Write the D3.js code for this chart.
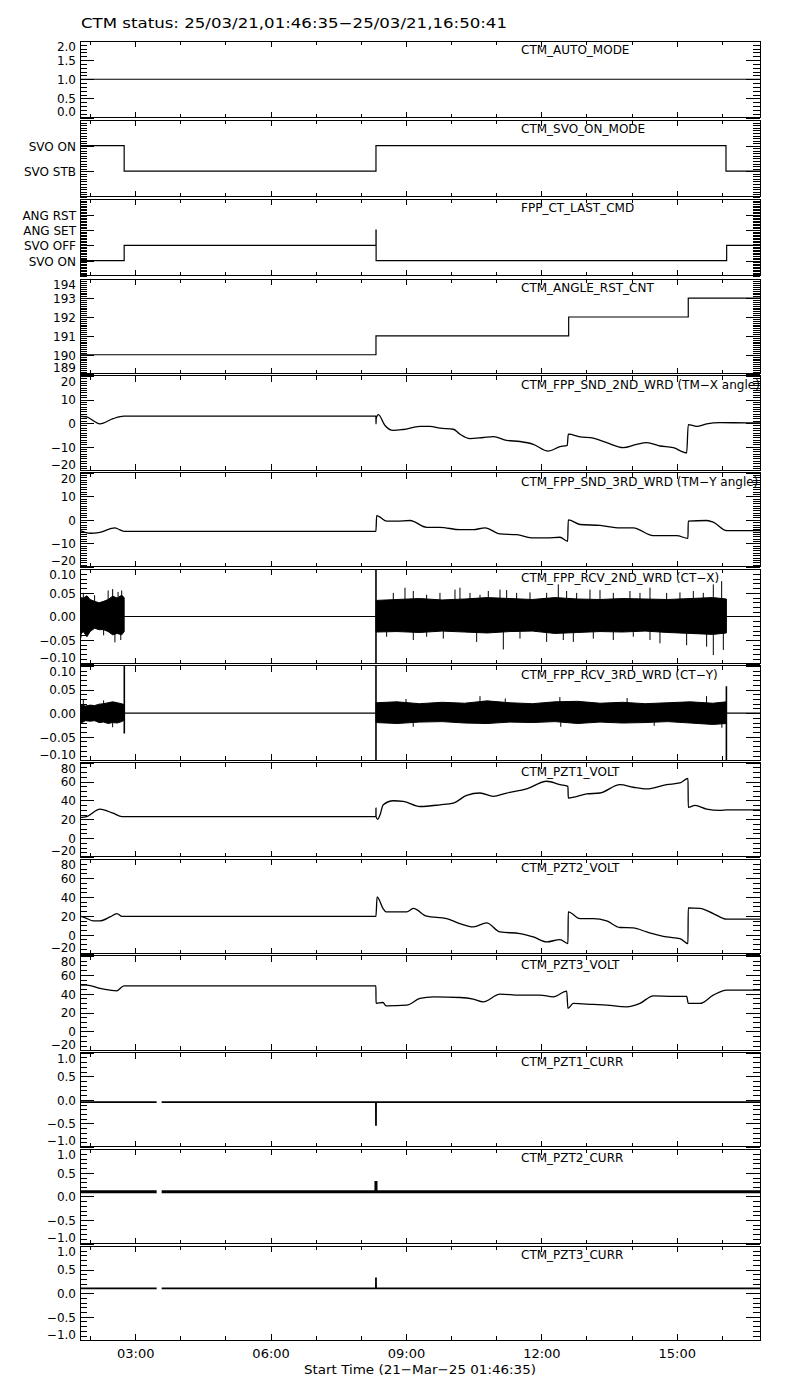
<!DOCTYPE html>
<html><head><meta charset="utf-8">
<script src="https://cdnjs.cloudflare.com/ajax/libs/d3/7.8.5/d3.min.js"></script>
<style>
body{margin:0;background:#fff}
svg{display:block}
text{font-family:"DejaVu Sans",sans-serif;fill:#000}
</style></head>
<body><svg id="c" width="800" height="1400"></svg>
<script>
// ---------------- DATA ----------------
const startH = 1 + 46/60 + 35/3600;   // 01:46:35
const endH   = 16 + 50/60 + 41/3600;  // 16:50:41
const titleText = "CTM status: 25/03/21,01:46:35\u221225/03/21,16:50:41";
const xTitleText = "Start Time (21\u2212Mar\u221225 01:46:35)";

const panelNames = ["CTM_AUTO_MODE","CTM_SVO_ON_MODE","FPP_CT_LAST_CMD","CTM_ANGLE_RST_CNT",
  "CTM_FPP_SND_2ND_WRD (TM\u2212X angle)","CTM_FPP_SND_3RD_WRD (TM\u2212Y angle)",
  "CTM_FPP_RCV_2ND_WRD (CT\u2212X)","CTM_FPP_RCV_3RD_WRD (CT\u2212Y)",
  "CTM_PZT1_VOLT","CTM_PZT2_VOLT","CTM_PZT3_VOLT","CTM_PZT1_CURR","CTM_PZT2_CURR","CTM_PZT3_CURR"];
const yDomains = [[0,2],[-1,2],[-1,4],[189,194],[-20,20],[-20,20],[-0.1,0.1],[-0.1,0.1],
  [-20,80],[-20,80],[-20,80],[-1,1],[-1,1],[-1,1]];
const yMajorTicks = [[0,0.5,1,1.5,2],[0,1],[0,1,2,3],[189,190,191,192,193,194],
  [-20,-10,0,10,20],[-20,-10,0,10,20],[-0.1,-0.05,0,0.05,0.1],[-0.1,-0.05,0,0.05,0.1],
  [-20,0,20,40,60,80],[-20,0,20,40,60,80],[-20,0,20,40,60,80],
  [-1,-0.5,0,0.5,1],[-1,-0.5,0,0.5,1],[-1,-0.5,0,0.5,1]];
const yTickLabels = [["0.0","0.5","1.0","1.5","2.0"],["SVO STB","SVO ON"],
  ["SVO ON","SVO OFF","ANG SET","ANG RST"],["189","190","191","192","193","194"],
  ["\u221220","\u221210","0","10","20"],["\u221220","\u221210","0","10","20"],
  ["\u22120.10","\u22120.05","0.00","0.05","0.10"],["\u22120.10","\u22120.05","0.00","0.05","0.10"],
  ["\u221220","0","20","40","60","80"],["\u221220","0","20","40","60","80"],["\u221220","0","20","40","60","80"],
  ["\u22121.0","\u22120.5","0.0","0.5","1.0"],["\u22121.0","\u22120.5","0.0","0.5","1.0"],["\u22121.0","\u22120.5","0.0","0.5","1.0"]];
const yMinorSteps = [0.1,0.1,0.1,0.1,1,1,0.01,0.01,5,5,5,0.1,0.1,0.1];

// step series
const autoModeT = [startH, endH];
const autoModeV = [1, 1];
const svoOnModeT = [startH, 2.755, 8.335, 16.091, endH];
const svoOnModeV = [1, 0, 1, 0, 0];
const lastCmdT = [startH, 2.755, 8.335, 8.338, 16.106, endH];
const lastCmdV = [0, 1, 2, 0, 1, 1];
const angleRstT = [startH, 8.335, 12.605, 15.255, endH];
const angleRstV = [190, 191, 192, 193, 193];

// TM-X angle
const tmXT = [1.776,1.925,2.219,2.508,2.751,8.334,8.336,8.340,8.386,8.535,8.718,8.940,9.310,9.532,9.753,
  10.048,10.197,10.418,10.713,10.934,11.231,11.526,11.821,12.153,12.412,12.574,12.596,12.856,13.150,13.447,
  13.815,14.111,14.333,14.628,14.922,15.220,15.255,15.441,15.663,15.958,16.550,16.845];
const tmXV = [3.0,2.6,-0.3,1.9,3.0,3.0,-0.3,2.0,3.6,-1.0,-3.1,-2.7,-1.4,-1.4,-2.1,
  -2.6,-4.7,-6.6,-6.1,-5.7,-7.3,-7.8,-9.0,-11.9,-10.0,-9.4,-4.7,-5.8,-6.4,-8.3,
  -10.4,-9.0,-8.3,-9.7,-10.4,-12.6,-0.6,-1.4,-0.3,0.2,0.1,0.1];
// TM-Y angle
const tmYT = [1.776,1.998,2.219,2.552,2.618,2.751,8.334,8.350,8.424,8.572,8.794,9.089,9.459,9.753,10.197,
  10.491,10.751,11.083,11.453,11.821,12.118,12.412,12.583,12.596,12.856,13.299,13.742,14.036,14.479,14.998,
  15.248,15.255,15.663,15.809,16.106,16.845];
const tmYV = [-4.6,-5.7,-5.3,-3.4,-3.9,-4.9,-4.9,1.8,1.1,-0.6,-0.6,-0.3,-3.2,-3.2,-4.2,
  -4.2,-3.4,-6.0,-6.3,-7.7,-7.7,-7.4,-9.1,0.0,-2.0,-2.4,-3.4,-3.4,-6.7,-6.7,
  -7.9,-0.6,-0.3,-1.0,-4.6,-4.6];

// CT-X (noise envelopes + spikes)
const ctXBandT1 = [1.776,1.85,1.93,2.0,2.1,2.2,2.3,2.4,2.5,2.6,2.7,2.755];
const ctXUpper1 = [0.040,0.039,0.044,0.036,0.032,0.029,0.032,0.036,0.043,0.039,0.045,0.040];
const ctXLower1 = [-0.039,-0.032,-0.043,-0.032,-0.025,-0.028,-0.028,-0.032,-0.039,-0.036,-0.039,-0.032];
const ctXBandT2 = [8.336,8.8,9.3,9.8,10.3,10.8,11.3,11.8,12.3,12.8,13.3,13.8,14.3,14.8,15.3,15.8,16.1];
const ctXUpper2 = [0.034,0.036,0.038,0.035,0.037,0.040,0.038,0.036,0.040,0.037,0.036,0.038,0.037,0.036,0.038,0.040,0.037];
const ctXLower2 = [-0.033,-0.032,-0.034,-0.031,-0.033,-0.035,-0.032,-0.031,-0.036,-0.034,-0.032,-0.033,-0.031,-0.034,-0.036,-0.038,-0.035];
const ctXSpikeT = [1.85,1.80,2.10,2.30,2.40,2.50,2.55,2.62,2.68,2.70,
  8.719,8.978,9.162,9.458,9.753,10.086,10.196,10.418,10.640,10.824,11.083,11.231,11.452,11.748,12.117,
  12.375,12.560,12.782,13.077,13.299,13.594,13.963,14.185,14.407,14.776,15.071,15.367,15.588,15.810,15.995,
  8.571,9.162,9.458,9.827,10.566,11.157,11.526,12.117,12.486,12.708,13.151,13.594,14.037,14.407,14.628,
  15.219,15.662,15.810,16.032];
const ctXSpikeV = [0.050,-0.045,0.045,-0.040,0.055,0.058,-0.055,0.052,-0.050,0.055,
  0.050,0.061,0.054,0.046,0.050,0.057,0.061,0.050,0.046,0.054,0.057,0.056,0.050,0.051,0.050,
  0.068,0.054,0.050,0.057,0.056,0.050,0.054,0.050,0.061,0.050,0.051,0.054,0.050,0.068,0.075,
  -0.043,-0.050,-0.043,-0.047,-0.054,-0.070,-0.047,-0.054,-0.050,-0.054,-0.047,-0.050,-0.043,-0.050,-0.057,
  -0.061,-0.064,-0.082,-0.071];
const ctXSegT = [8.335];
const ctXSegV0 = [0.1];
const ctXSegV1 = [-0.1];

// CT-Y
const ctYBandT1 = [1.776,1.9,2.0,2.1,2.2,2.3,2.4,2.5,2.6,2.7,2.755];
const ctYUpper1 = [0.018,0.015,0.017,0.016,0.019,0.020,0.022,0.024,0.022,0.020,0.018];
const ctYLower1 = [-0.022,-0.016,-0.017,-0.016,-0.020,-0.019,-0.022,-0.020,-0.021,-0.018,-0.015];
const ctYBandT2 = [8.336,8.8,9.3,9.8,10.3,10.8,11.3,11.8,12.3,12.8,13.3,13.8,14.3,14.8,15.3,15.8,16.1];
const ctYUpper2 = [0.022,0.024,0.020,0.023,0.021,0.026,0.022,0.020,0.024,0.025,0.021,0.023,0.020,0.022,0.024,0.021,0.024];
const ctYLower2 = [-0.020,-0.022,-0.019,-0.018,-0.021,-0.022,-0.019,-0.020,-0.018,-0.022,-0.019,-0.021,-0.020,-0.018,-0.021,-0.024,-0.022];
const ctYSpikeT = [1.85,2.3,2.5,9.0,9.16,10.64,11.2,12.41,12.43,13.9,14.5,15.66,16.0];
const ctYSpikeV = [0.028,0.027,-0.030,0.030,-0.029,0.036,0.031,0.034,-0.029,0.032,-0.027,0.036,-0.031];
const ctYSegT = [2.758, 8.335, 16.10];
const ctYSegV0 = [0.1, 0.1, 0.057];
const ctYSegV1 = [-0.043, -0.1, -0.1];

// PZT voltages
const pzt1T = [1.776,1.925,2.219,2.508,2.707,8.334,8.335,8.336,8.373,8.424,8.497,8.718,8.940,9.310,9.753,
  10.048,10.345,10.640,10.934,11.231,11.675,12.118,12.412,12.589,12.596,13.004,13.299,13.742,14.036,14.333,
  14.776,15.071,15.250,15.255,15.404,15.663,15.958,16.106,16.845];
const pzt1V = [21.7,22.8,30.7,26.4,22.8,22.8,31.8,22.8,20.0,24.6,35.3,39.6,38.9,33.5,35.3,
  37.1,45.3,47.8,44.2,47.8,52.1,60.3,56.7,54.9,42.5,46.8,47.8,56.7,53.9,52.1,
  56.7,58.5,63.2,32.5,34.6,30.7,29.3,30.0,30.0];
const pzt2T = [1.776,1.931,2.064,2.219,2.441,2.596,2.707,8.334,8.360,8.490,8.557,9.016,9.162,9.459,9.902,
  10.197,10.491,10.788,11.083,11.526,11.821,12.118,12.412,12.589,12.596,12.856,13.150,13.447,13.742,14.036,
  14.333,14.776,15.071,15.248,15.255,15.515,15.809,16.106,16.845];
const pzt2V = [19.7,17.2,14.7,14.7,18.9,22.5,19.5,19.5,40.2,27.9,24.3,24.3,27.9,19.7,17.2,
  11.9,8.3,12.6,3.0,1.3,-2.3,-7.6,-5.1,-9.4,24.3,17.2,17.2,14.7,7.7,7.3,
  3.0,-2.3,-4.0,-9.4,28.5,27.9,22.5,16.5,16.5];
const pzt3T = [1.776,1.931,2.219,2.441,2.590,2.751,8.334,8.336,8.490,8.557,9.016,9.310,9.605,10.197,10.491,
  10.713,11.083,11.526,11.969,12.264,12.561,12.589,12.707,13.150,13.447,13.890,14.185,14.479,14.922,15.220,
  15.255,15.515,15.809,16.106,16.845];
const pzt3V = [49.1,49.1,45.6,43.8,43.1,48.4,48.4,29.7,30.7,27.1,27.9,35.0,36.7,36.0,34.3,
  31.4,39.6,38.5,38.5,36.7,42.8,24.4,29.7,28.6,27.9,26.1,29.7,37.8,37.1,37.1,
  29.7,29.7,38.5,43.8,43.8];

// PZT currents (NaN = data gap)
const currT = [startH, 3.475, 3.48, 3.586, 8.334, 8.335, 8.336, endH];
const pzt1CurrV = [-0.05,-0.05,NaN,-0.05,-0.05,-0.55,-0.05,-0.05];
const pzt2CurrV = [0.10,0.10,NaN,0.10,0.10,0.33,0.10,0.10];
const pzt3CurrV = [0.10,0.10,NaN,0.10,0.10,0.33,0.10,0.10];

// ---------------- DRAWING ----------------
const svg = d3.select("#c");
const day = new Date(2025, 2, 21);
const toDate = h => new Date(day.getTime() + h * 3600e3);
const x = d3.scaleTime().domain([toDate(startH), toDate(endH)]).range([80, 760]);

function panelBox(i){
  if (i < 3) return {top: 41 + i*79.2, bottom: 41 + i*79.2 + 76.5};
  const j = i - 3;
  return {top: 279.3 + j*96.67, bottom: 279.3 + j*96.67 + 94.3};
}
const zip = (t, v) => t.map((d, k) => [d, v[k]]);

const lineSeries = [
  {p:0, t:autoModeT, v:autoModeV, c:"step", w:1.2},
  {p:1, t:svoOnModeT, v:svoOnModeV, c:"step", w:1.2},
  {p:2, t:lastCmdT, v:lastCmdV, c:"step", w:1.2},
  {p:3, t:angleRstT, v:angleRstV, c:"step", w:1.2},
  {p:4, t:tmXT, v:tmXV, c:"smooth", w:1.3},
  {p:5, t:tmYT, v:tmYV, c:"smooth", w:1.3},
  {p:6, t:[startH,endH], v:[0,0], c:"linear", w:1.1},
  {p:7, t:[startH,endH], v:[0,0], c:"linear", w:1.1},
  {p:8, t:pzt1T, v:pzt1V, c:"smooth", w:1.3},
  {p:9, t:pzt2T, v:pzt2V, c:"smooth", w:1.3},
  {p:10, t:pzt3T, v:pzt3V, c:"smooth", w:1.3},
  {p:11, t:currT, v:pzt1CurrV, c:"linear", w:1.8},
  {p:12, t:currT, v:pzt2CurrV, c:"linear", w:3},
  {p:13, t:currT, v:pzt3CurrV, c:"linear", w:1.8}
];
const curves = {step: d3.curveStepAfter, smooth: d3.curveMonotoneX, linear: d3.curveLinear};
const bands = [
  {p:6, t:ctXBandT1, u:ctXUpper1, l:ctXLower1},
  {p:6, t:ctXBandT2, u:ctXUpper2, l:ctXLower2},
  {p:7, t:ctYBandT1, u:ctYUpper1, l:ctYLower1},
  {p:7, t:ctYBandT2, u:ctYUpper2, l:ctYLower2}
];
const spikes = [
  {p:6, t:ctXSpikeT, v:ctXSpikeV},
  {p:7, t:ctYSpikeT, v:ctYSpikeV}
];
const segs = [
  {p:6, t:ctXSegT, v0:ctXSegV0, v1:ctXSegV1},
  {p:7, t:ctYSegT, v0:ctYSegV0, v1:ctYSegV1}
];

function minorValues(dom, step){
  const a = Math.round(dom[0]/step), b = Math.round(dom[1]/step);
  return d3.range(a, b + 1).map(k => +(k*step).toFixed(6));
}
function styleAxis(g){
  g.select(".domain").remove();
  g.attr("font-family", null).attr("font-size", null);
  g.selectAll("line").attr("stroke", "#000").attr("shape-rendering", "crispEdges");
}

panelNames.forEach((name, i) => {
  const {top, bottom} = panelBox(i);
  const y = d3.scaleLinear().domain(yDomains[i]).range([bottom, top]);
  const g = svg.append("g");

  // left minor & major
  g.append("g").attr("transform", "translate(80,0)")
    .call(d3.axisLeft(y).tickValues(minorValues(yDomains[i], yMinorSteps[i])).tickSize(-7).tickFormat(""))
    .call(styleAxis);
  const la = g.append("g").attr("transform", "translate(80,0)")
    .call(d3.axisLeft(y).tickValues(yMajorTicks[i]).tickSize(-14).tickPadding(4)
      .tickFormat((d, k) => yTickLabels[i][k]))
    .call(styleAxis);
  la.selectAll("text").attr("font-size", 12).attr("dy", null)
    .attr("y", d => {
      const yy = y(d);
      const base = Math.max(top + 9.5, Math.min(bottom - 2, yy + 4.4));
      return base - yy;
    });
  // right
  g.append("g").attr("transform", "translate(760,0)")
    .call(d3.axisRight(y).tickValues(minorValues(yDomains[i], yMinorSteps[i])).tickSize(-7).tickFormat(""))
    .call(styleAxis);
  g.append("g").attr("transform", "translate(760,0)")
    .call(d3.axisRight(y).tickValues(yMajorTicks[i]).tickSize(-14).tickFormat(""))
    .call(styleAxis);
  // top & bottom time ticks
  g.append("g").attr("transform", `translate(0,${top})`)
    .call(d3.axisBottom(x).ticks(d3.timeHour.every(1)).tickSize(4).tickFormat("")).call(styleAxis);
  g.append("g").attr("transform", `translate(0,${top})`)
    .call(d3.axisBottom(x).ticks(d3.timeHour.every(3)).tickSize(6).tickFormat("")).call(styleAxis);
  g.append("g").attr("transform", `translate(0,${bottom})`)
    .call(d3.axisTop(x).ticks(d3.timeHour.every(1)).tickSize(4).tickFormat("")).call(styleAxis);
  g.append("g").attr("transform", `translate(0,${bottom})`)
    .call(d3.axisTop(x).ticks(d3.timeHour.every(3)).tickSize(6).tickFormat("")).call(styleAxis);

  // frame
  g.append("rect").attr("x", 80).attr("y", top).attr("width", 680).attr("height", bottom - top)
    .attr("fill", "none").attr("stroke", "#000").attr("stroke-width", 1).attr("shape-rendering", "crispEdges");

  // clip for data
  svg.append("clipPath").attr("id", "clip" + i).append("rect")
    .attr("x", 80).attr("y", top - 0.5).attr("width", 680).attr("height", bottom - top + 1);
  const plot = g.append("g").attr("class", "plot").attr("clip-path", `url(#clip${i})`);

  bands.filter(b => b.p === i).forEach(b => {
    const area = d3.area().x(d => x(toDate(d[0]))).y0(d => y(d[2])).y1(d => y(d[1]));
    plot.append("path").datum(b.t.map((t, k) => [t, b.u[k], b.l[k]]))
      .attr("d", area).attr("fill", "#000").attr("stroke", "#000").attr("stroke-width", 1);
  });
  spikes.filter(s => s.p === i).forEach(s => {
    plot.selectAll(null).data(zip(s.t, s.v)).join("line")
      .attr("x1", d => x(toDate(d[0]))).attr("x2", d => x(toDate(d[0])))
      .attr("y1", y(0)).attr("y2", d => y(d[1]))
      .attr("stroke", "#000").attr("stroke-width", 1);
  });
  segs.filter(s => s.p === i).forEach(s => {
    plot.selectAll(null).data(s.t.map((t, k) => [t, s.v0[k], s.v1[k]])).join("line")
      .attr("x1", d => x(toDate(d[0]))).attr("x2", d => x(toDate(d[0])))
      .attr("y1", d => y(d[1])).attr("y2", d => y(d[2]))
      .attr("stroke", "#000").attr("stroke-width", 1.6);
  });
  lineSeries.filter(s => s.p === i).forEach(s => {
    const line = d3.line().defined(d => !isNaN(d[1]))
      .x(d => x(toDate(d[0]))).y(d => y(d[1]))
      .curve(curves[s.c]);
    plot.append("path").datum(zip(s.t, s.v)).attr("d", line)
      .attr("fill", "none").attr("stroke", "#000").attr("stroke-width", s.w)
      .attr("stroke-linejoin", "miter");
  });

  // panel label
  g.append("text").attr("x", 521).attr("y", top + 13).attr("font-size", 12).text(name);
});

// bottom time labels
const lastBox = panelBox(panelNames.length - 1);
const xa = svg.append("g").attr("transform", `translate(0,${lastBox.bottom})`)
  .call(d3.axisBottom(x).ticks(d3.timeHour.every(3)).tickSize(0).tickFormat(d3.timeFormat("%H:%M")))
  .call(styleAxis);
xa.selectAll("text").attr("font-size", 13).attr("dy", null).attr("y", 18);

svg.append("text").attr("x", 420).attr("y", 1373.5).attr("text-anchor", "middle")
  .attr("font-size", 13).attr("textLength", 232).attr("lengthAdjust", "spacingAndGlyphs").text(xTitleText);
svg.append("text").attr("x", 81).attr("y", 28.3).attr("font-size", 14)
  .attr("textLength", 426).attr("lengthAdjust", "spacingAndGlyphs").text(titleText);
</script></body></html>
